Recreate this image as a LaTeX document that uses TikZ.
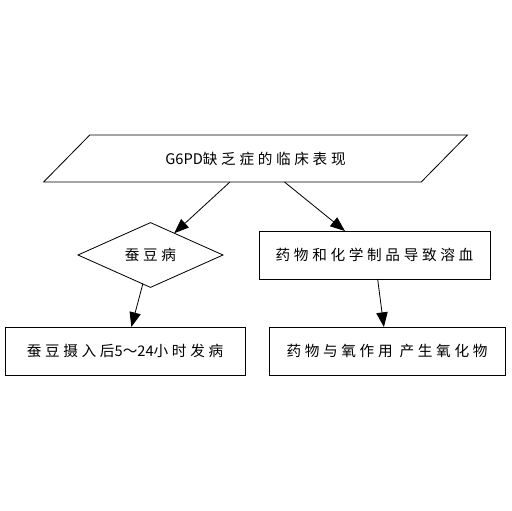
\documentclass[tikz,border=0pt]{standalone}
\usepackage{fontspec}
\setmainfont[LetterSpace=25]{Noto Sans CJK SC}
\newfontfamily\latn{Noto Sans CJK SC}
\usepackage{tikz}
\usetikzlibrary{shapes.geometric, arrows.meta, positioning}

\begin{document}
\begin{tikzpicture}[x=0.03cm, y=-0.03cm,
    every node/.style={font=\fontsize{12.5pt}{15pt}\selectfont, line width=0.7pt, inner sep=0pt, outer sep=0pt},
    pfeil/.style={-{Triangle[length=0.44cm, width=0.34cm]}, line width=0.7pt}]
    \useasboundingbox (0,0) rectangle (511,511);

    \node[draw, trapezium, trapezium left angle=28.4, trapezium right angle=151.6, trapezium stretches=true, minimum width=12.75cm, minimum height=1.41cm]
      (Z) at (255.5,158.5) {{\latn G6PD}缺乏症的临床表现};
    \node[draw, diamond, minimum width=4.35cm, minimum height=1.44cm]
      (CD) at (150.5,255) {蚕豆病};
    \node[draw, rectangle, minimum width=6.93cm, minimum height=1.44cm]
      (YW) at (374.5,255) {药物和化学制品导致溶血};
    \node[draw, rectangle, minimum width=7.2cm, minimum height=1.44cm]
      (CD2) at (125,351) {蚕豆摄入后{\latn 5～24}小时发病};
    \node[draw, rectangle, minimum width=7.08cm, minimum height=1.44cm]
      (YW2) at (387,351) {药物与氧作用 产生氧化物};

    \draw[pfeil] (Z) -- (CD);
    \draw[pfeil] (Z) -- (YW);
    \draw[pfeil] (CD) -- (CD2);
    \draw[pfeil] (YW) -- (YW2);
  \end{tikzpicture}
\end{document}
